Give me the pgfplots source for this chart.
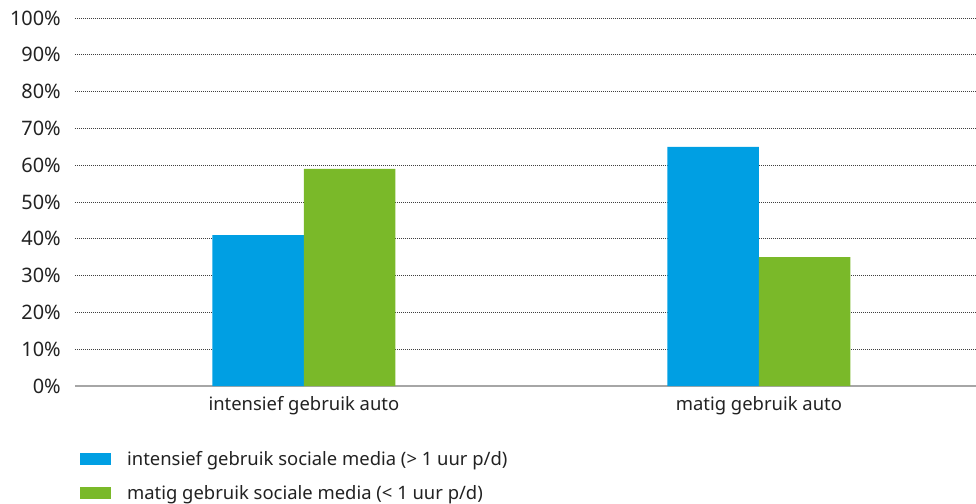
\documentclass[border=0pt]{standalone}
\usepackage{pgfplots}
\pgfplotsset{compat=1.18}
\usepackage{fontspec}
\setmainfont{Noto Sans}
\definecolor{cblue}{HTML}{009FE3}
\definecolor{cgreen}{HTML}{7AB929}
\definecolor{txt}{HTML}{222222}
\begin{document}
\begin{tikzpicture}
\useasboundingbox (-75bp,-118bp) rectangle (901bp,386bp);
\begin{axis}[
  at={(0,0)}, anchor=south west,
  scale only axis, width=901bp, height=368bp,
  xmin=-0.503, xmax=1.477, ymin=0, ymax=100,
  ybar=0pt, bar width=0.201,
  axis line style={draw=none},
  major tick length=0,
  font=\fontsize{18.5}{22}\selectfont,
  ytick={10,20,...,100},
  yticklabels={10\%,20\%,30\%,40\%,50\%,60\%,70\%,80\%,90\%,100\%},
  extra y ticks={0}, extra y tick labels={0\%},
  extra y tick style={grid=major, major grid style={solid, color=black!35, line width=2bp}},
  ymajorgrids,
  major grid style={dash pattern=on 1bp off 1bp, color=black!75, line width=0.9bp},
  yticklabel style={anchor=east, inner sep=0pt, xshift=-14bp, text=txt, font=\fontsize{20}{24}\selectfont},
  xtick={0,1},
  xticklabels={intensief gebruik auto, matig gebruik auto},
  xticklabel style={anchor=north, inner sep=0pt, yshift=-10bp, text=txt},
  legend style={at={(0.0055,-0.172)}, anchor=north west, draw=none, fill=none,
    text=txt, row sep=14bp, column sep=14bp, inner sep=0pt},
  legend cell align=left,
]
\addplot[fill=cblue, draw=none, legend image code/.code={\fill[cblue] (0bp,-6bp) rectangle (31bp,6bp);}] coordinates {(0,41) (1,65)};
\addplot[fill=cgreen, draw=none, legend image code/.code={\fill[cgreen] (0bp,-6bp) rectangle (31bp,6bp);}] coordinates {(0,59) (1,35)};
\legend{intensief gebruik sociale media (> 1 uur p/d), matig gebruik sociale media (< 1 uur p/d)}
\end{axis}
\end{tikzpicture}
\end{document}
